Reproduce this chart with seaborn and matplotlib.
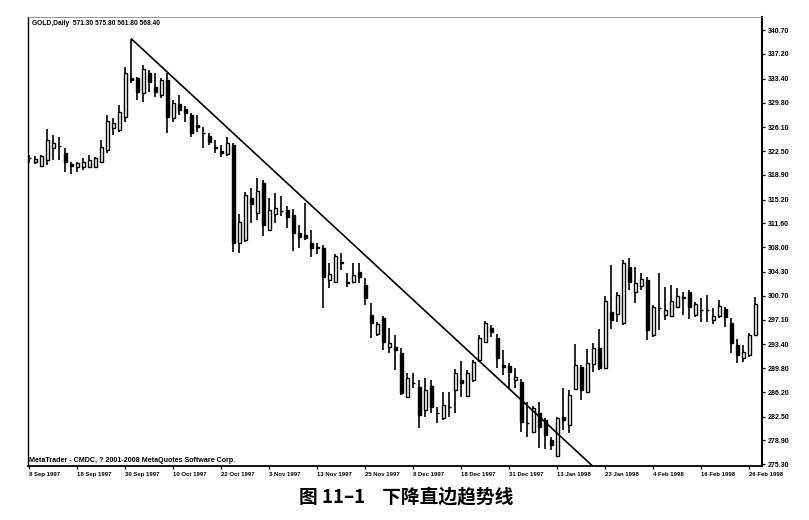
import numpy as np
import pandas as pd
import matplotlib
matplotlib.use("Agg")
import matplotlib.pyplot as plt
import seaborn as sns

# ---------------- data ----------------
opens = [321.4, 320.9, 320.3, 321.2, 323.0, 323.3, 322.2, 320.5, 320.1, 320.1,
         320.1, 320.1, 320.9, 322.7, 326.0, 325.7, 327.6, 333.5, 333.5, 331.3,
         334.3, 332.2, 331.0, 333.2, 327.5, 329.6, 328.8, 327.9, 326.4, 325.3,
         324.8, 323.1, 322.5, 322.1, 323.4, 308.7, 309.1, 315.4, 313.2, 317.7,
         310.6, 313.0, 313.5, 313.6, 312.9, 310.2, 309.9, 308.7, 308.0, 307.9,
         303.1, 302.8, 305.8, 302.8, 302.8, 304.3, 302.3, 297.8, 295.0, 297.4,
         293.0, 293.0, 292.1, 285.5, 287.6, 287.0, 283.5, 287.1, 283.1, 282.3,
         284.0, 286.5, 288.0, 285.6, 288.0, 291.0, 293.7, 295.8, 294.3, 290.2,
         290.1, 288.0, 287.7, 281.6, 280.2, 283.0, 282.0, 279.0, 276.6, 282.4,
         281.2, 286.7, 290.0, 286.2, 290.4, 292.8, 289.8, 298.3, 298.0, 296.6,
         305.0, 301.3, 302.2, 303.1, 294.8, 298.9, 297.8, 297.7, 299.0, 300.5,
         301.3, 297.8, 298.6, 298.6, 297.1, 297.7, 298.7, 296.6, 293.3, 291.3,
         291.8, 294.8]
highs = [321.9, 321.8, 321.9, 325.8, 324.9, 324.6, 323.0, 320.9, 320.9, 321.5,
         321.9, 321.6, 324.2, 327.9, 327.5, 329.4, 335.2, 339.4, 333.7, 335.5,
         334.7, 334.3, 333.5, 334.3, 330.2, 331.0, 329.3, 328.2, 327.9, 326.1,
         325.2, 324.2, 323.4, 324.6, 323.7, 313.0, 316.3, 316.9, 318.4, 318.1,
         315.4, 316.2, 315.7, 314.2, 313.8, 311.4, 314.7, 310.6, 308.7, 308.4,
         305.6, 307.0, 307.1, 304.1, 305.6, 305.6, 303.4, 299.6, 296.8, 297.7,
         295.8, 294.8, 292.8, 289.1, 289.1, 288.0, 288.3, 288.0, 283.9, 286.2,
         286.2, 289.7, 290.9, 289.5, 291.0, 294.8, 296.9, 296.3, 294.9, 292.5,
         290.6, 289.8, 288.2, 284.7, 284.1, 284.7, 282.3, 279.4, 282.4, 286.8,
         286.5, 293.4, 290.3, 292.7, 293.6, 295.7, 300.7, 305.3, 301.3, 306.1,
         306.4, 305.0, 304.1, 303.5, 299.3, 304.1, 302.0, 302.3, 301.9, 301.3,
         301.6, 299.8, 300.4, 300.8, 298.9, 300.1, 299.0, 297.4, 294.2, 293.3,
         295.1, 300.5]
lows = [320.7, 320.6, 320.1, 320.4, 321.2, 321.2, 319.4, 319.1, 319.4, 319.7,
        320.0, 320.0, 320.7, 322.2, 324.9, 325.4, 326.9, 332.8, 330.2, 329.9,
        331.4, 330.7, 330.5, 325.2, 326.9, 327.9, 326.9, 324.6, 325.4, 323.0,
        323.4, 322.2, 321.6, 321.8, 307.3, 307.1, 308.8, 311.7, 312.1, 309.7,
        310.4, 311.7, 312.7, 310.9, 307.4, 307.9, 309.1, 306.5, 307.0, 298.9,
        301.9, 302.6, 304.6, 302.0, 302.6, 302.6, 299.3, 294.3, 294.7, 292.5,
        292.1, 289.5, 285.8, 285.3, 286.8, 280.8, 282.4, 283.0, 281.5, 282.0,
        282.4, 283.0, 285.5, 285.5, 287.7, 290.7, 293.6, 294.5, 289.8, 288.8,
        286.8, 286.8, 280.2, 279.4, 280.0, 277.7, 277.6, 277.5, 276.4, 280.5,
        280.0, 286.5, 285.0, 286.1, 289.2, 289.5, 289.7, 295.7, 296.8, 296.3,
        301.6, 299.6, 301.6, 294.0, 294.5, 295.5, 297.1, 297.5, 298.9, 297.8,
        297.2, 297.5, 296.8, 296.8, 296.5, 297.4, 296.0, 292.1, 290.6, 290.7,
        291.5, 294.6]
closes = [321.5, 321.3, 321.8, 324.2, 323.7, 323.2, 320.9, 320.3, 320.7, 320.9,
          321.2, 321.5, 323.1, 327.0, 326.7, 328.4, 334.3, 333.2, 331.4, 334.9,
          332.9, 331.4, 333.2, 327.6, 329.8, 328.7, 328.2, 325.2, 326.1, 325.2,
          323.9, 323.0, 322.2, 323.7, 308.7, 311.8, 315.9, 314.5, 316.5, 311.4,
          313.6, 313.9, 313.4, 312.6, 310.2, 309.6, 309.4, 307.9, 307.9, 303.5,
          304.0, 306.7, 305.7, 302.7, 303.8, 303.5, 300.4, 296.6, 296.5, 293.7,
          293.6, 292.5, 286.1, 288.3, 287.5, 282.7, 286.5, 283.9, 283.0, 284.2,
          283.9, 289.1, 287.5, 289.1, 290.7, 294.3, 296.6, 295.2, 291.3, 290.0,
          289.2, 288.5, 281.7, 281.5, 283.8, 280.9, 279.7, 278.2, 282.3, 282.0,
          285.8, 290.3, 286.5, 290.6, 292.8, 289.8, 299.9, 297.1, 300.8, 305.6,
          302.8, 302.6, 303.2, 295.5, 299.0, 298.8, 298.6, 299.9, 300.7, 300.4,
          299.0, 299.5, 298.5, 298.5, 297.7, 299.2, 297.5, 293.6, 291.8, 292.2,
          294.8, 299.5]

date_labels = ["8 Sep 1997", "18 Sep 1997", "30 Sep 1997", "10 Oct 1997",
               "22 Oct 1997", "3 Nov 1997", "13 Nov 1997", "25 Nov 1997",
               "8 Dec 1997", "18 Dec 1997", "31 Dec 1997", "13 Jan 1998",
               "23 Jan 1998", "4 Feb 1998", "16 Feb 1998", "26 Feb 1998"]
bars_per_label = 8

price_ticks = [340.70, 337.20, 333.40, 329.80, 326.10, 322.50, 318.90, 315.20,
               311.60, 308.00, 304.30, 300.70, 297.10, 293.40, 289.80, 286.20,
               282.50, 278.90, 275.30]

trend_bar = [17, 93.8]
trend_price = [339.4, 275.1]

header = "GOLD,Daily  571.30 575.80 561.80 568.40"
footer = "MetaTrader - CMDC, ? 2001-2008 MetaQuotes Software Corp."
caption = "图 11–1    下降直边趋势线"

# ---------------- drawing ----------------
sns.set_theme(style="white")
plt.rcParams['font.family'] = ['Liberation Sans', 'DejaVu Sans']

df = pd.DataFrame({"open": opens, "high": highs, "low": lows, "close": closes})
df["bar"] = np.arange(len(df))
df["bull"] = df["close"] >= df["open"]
df["body_lo"] = df[["open", "close"]].min(axis=1)
df["body_h"] = (df["close"] - df["open"]).abs().clip(lower=0.08)

fig = plt.figure(figsize=(8.09, 5.20), dpi=100)
fig.patch.set_facecolor("white")
ax = fig.add_axes([0.0346, 0.1044, 0.9073, 0.8635])
ax.set_facecolor("white")

ax.vlines(df["bar"], df["low"], df["high"], color="black", linewidth=1.2, zorder=2)
ax.bar(df["bar"], df["body_h"], bottom=df["body_lo"], width=0.62,
       color=np.where(df["bull"], "white", "black"), edgecolor="black",
       linewidth=1.0, zorder=3)

sns.lineplot(x=trend_bar, y=trend_price, ax=ax, color="black", linewidth=1.2,
             zorder=4, legend=False)

ax.set_xlim(-0.25, 122.1)
ax.set_ylim(275.1, 342.75)

ax.yaxis.tick_right()
ax.set_yticks(price_ticks)
ax.set_yticklabels([f"{v:.2f}" for v in price_ticks], fontsize=5, fontweight="bold")
tick_pos = list(range(0, bars_per_label * len(date_labels), bars_per_label))
ax.set_xticks(tick_pos)
ax.set_xticklabels(date_labels, fontsize=4.3, fontweight="bold", ha="left")
ax.tick_params(axis="y", direction="out", length=2.5, width=0.9, pad=1.5,
               colors="black", right=True, left=False)
ax.tick_params(axis="x", direction="out", length=2, width=0.9, pad=2.5,
               colors="black", bottom=True)
ax.set_xlabel("")
ax.set_ylabel("")

for side in ["left", "bottom", "right"]:
    ax.spines[side].set_visible(True)
    ax.spines[side].set_color("black")
ax.spines["left"].set_linewidth(1.0)
ax.spines["bottom"].set_linewidth(1.3)
ax.spines["right"].set_linewidth(1.5)
ax.spines["top"].set_color("#888888")
ax.spines["top"].set_linewidth(0.6)

ax.text(0.0055, 0.993, header, transform=ax.transAxes, ha="left", va="top",
        fontsize=4.8, fontweight="bold", color="black")
ax.text(0.001, 0.004, footer, transform=ax.transAxes, ha="left", va="bottom",
        fontsize=5.1, fontweight="bold", color="black")

fig.text(406 / 809, 1 - 497 / 520, caption, ha="center", va="center",
         fontsize=13.5, fontweight="bold",
         family=['Noto Sans CJK SC', 'DejaVu Sans'], color="black")

fig.savefig("out.png", dpi=100, facecolor="white")
